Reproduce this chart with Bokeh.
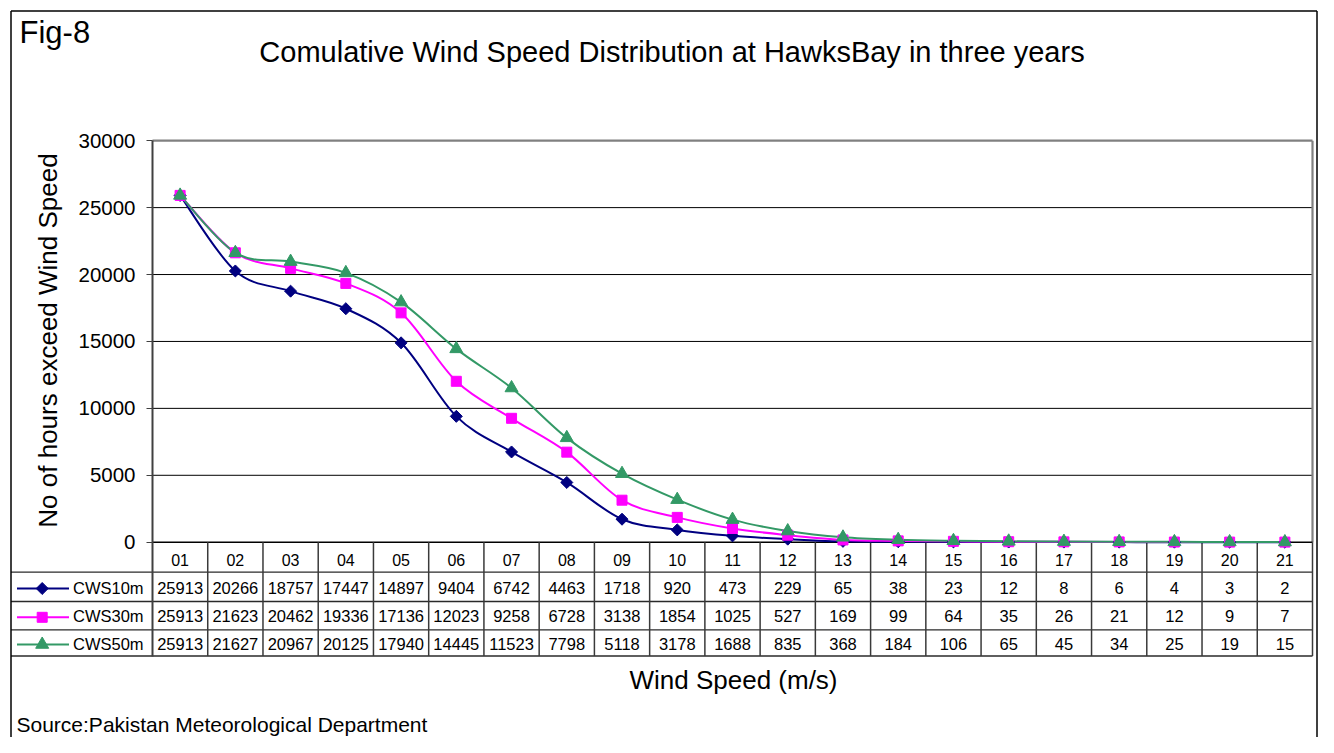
import numpy as np
from bokeh.plotting import figure
from bokeh.models import Range1d, LinearAxis, FixedTicker, Label
from bokeh.core.properties import value
from bokeh.embed import file_html
from bokeh.resources import INLINE

# ---------------- data ----------------
wind_speed_labels = ["01", "02", "03", "04", "05", "06", "07", "08", "09", "10",
                     "11", "12", "13", "14", "15", "16", "17", "18", "19", "20", "21"]
series_names = ["CWS10m", "CWS30m", "CWS50m"]
cws10m = [25913, 20266, 18757, 17447, 14897, 9404, 6742, 4463, 1718, 920,
          473, 229, 65, 38, 23, 12, 8, 6, 4, 3, 2]
cws30m = [25913, 21623, 20462, 19336, 17136, 12023, 9258, 6728, 3138, 1854,
          1025, 527, 169, 99, 64, 35, 26, 21, 12, 9, 7]
cws50m = [25913, 21627, 20967, 20125, 17940, 14445, 11523, 7798, 5118, 3178,
          1688, 835, 368, 184, 106, 65, 45, 34, 25, 19, 15]
y_ticks = [0, 5000, 10000, 15000, 20000, 25000, 30000]

title_text = "Comulative Wind Speed Distribution at HawksBay in three years"
fig_text = "Fig-8"
y_title = "No of hours exceed Wind Speed"
x_title = "Wind Speed (m/s)"
source_text = "Source:Pakistan Meteorological Department"

# ---------------- layout helpers (picture pixels -> data) ----------------
W, H = 1318, 737
ORIGIN = 0
PX_LEFT, PX_RIGHT = 152.0, 1312.0
PY_TOP, PY_ZERO = 140.2, 541.7
n = len(wind_speed_labels)
colw = (PX_RIGHT - PX_LEFT) / n
ky = y_ticks[-1] / (PY_ZERO - PY_TOP)


def xd(px):
    return 0.5 + (px - PX_LEFT) / colw


def yd(py):
    return (PY_ZERO - py) * ky


FONT = value("Liberation Sans")
FONT_NAME = "Liberation Sans"

p = figure(width=W, height=H, output_backend="svg", toolbar_location=None,
           x_range=Range1d(xd(ORIGIN), xd(ORIGIN + W)),
           y_range=Range1d(yd(ORIGIN + H), yd(ORIGIN)),
           x_axis_type=None, y_axis_type=None, min_border=0, title=None)
p.outline_line_color = None
p.background_fill_color = "white"
p.border_fill_color = "white"

x_left, x_right = 0.5, n + 0.5

# gridlines
inner = y_ticks[1:-1]
p.segment(x0=[x_left] * len(inner), y0=inner, x1=[x_right] * len(inner), y1=inner,
          line_color="black", line_width=1)
# plot-area border (top and right)
p.segment(x0=[x_left, x_right], y0=[y_ticks[-1], y_ticks[-1]],
          x1=[x_right, x_right], y1=[y_ticks[-1], 0],
          line_color="#808080", line_width=2.2)

# data table lines
row_lines = [571.7, 601.0, 629.3, 655.5]
p.segment(x0=[xd(10.5)] * len(row_lines), y0=[yd(v) for v in row_lines],
          x1=[x_right] * len(row_lines), y1=[yd(v) for v in row_lines],
          line_color="#2a2a2a", line_width=1.3)
p.segment(x0=[x_left], y0=[0], x1=[x_right], y1=[0], line_color="black", line_width=1.5)
col_x = [k + 0.5 for k in range(1, n + 1)]
p.segment(x0=col_x, y0=[yd(655.5)] * n, x1=col_x, y1=[0] * n,
          line_color="#3a3a3a", line_width=1.5)

# outer chart border (left, top, right)
p.segment(x0=[xd(10.5), xd(10.5), xd(1316.5)], y0=[yd(10.5), yd(10.5), yd(10.5)],
          x1=[xd(10.5), xd(1316.5), xd(1316.5)], y1=[yd(800), yd(10.5), yd(800)],
          line_color="black", line_width=1.5)

# ---------------- series ----------------
xs = np.arange(1, n + 1, dtype=float)
series = [cws10m, cws30m, cws50m]
colors = ["#000080", "#FF00FF", "#339966"]
markers = [("square", np.pi / 4, 8.5), ("square", 0.0, 10), ("triangle", 0.0, 13)]


def smooth(ys):
    pts = np.column_stack([xs, np.asarray(ys, dtype=float)])
    m = len(pts)
    out = {k: [] for k in ("x0", "y0", "x1", "y1", "cx0", "cy0", "cx1", "cy1")}
    for i in range(m - 1):
        pm = pts[i - 1] if i > 0 else pts[i]
        pn = pts[i + 2] if i + 2 < m else pts[i + 1]
        c0 = pts[i] + (pts[i + 1] - pm) / 6.0
        c1 = pts[i + 1] - (pn - pts[i]) / 6.0
        out["x0"].append(pts[i][0]); out["y0"].append(pts[i][1])
        out["x1"].append(pts[i + 1][0]); out["y1"].append(pts[i + 1][1])
        out["cx0"].append(c0[0]); out["cy0"].append(c0[1])
        out["cx1"].append(c1[0]); out["cy1"].append(c1[1])
    return out


for ys, col in zip(series, colors):
    p.bezier(line_color=col, line_width=2, **smooth(ys))
for ys, col, (mk, ang, sz) in zip(series, colors, markers):
    p.scatter(x=xs, y=ys, marker=mk, angle=ang, size=sz, fill_color=col, line_color=col)

# ---------------- table rows ----------------
row_centers = [587.0, 615.8, 643.0]
for ys, name, col, (mk, ang, sz), rc in zip(series, series_names, colors, markers, row_centers):
    p.text(x=xs, y=[yd(rc)] * n, text=[str(v) for v in ys], text_align="center",
           text_baseline="middle", text_font=FONT, text_font_size="16.5px", text_color="black")
    p.segment(x0=[xd(16.5)], y0=[yd(rc + 1)], x1=[xd(68.5)], y1=[yd(rc + 1)],
              line_color=col, line_width=2)
    p.scatter(x=[xd(41.7)], y=[yd(rc + 1)], marker=mk, angle=ang, size=sz,
              fill_color=col, line_color=col)
    p.text(x=[xd(72.5)], y=[yd(rc)], text=[name], text_align="left",
           text_baseline="middle", text_font=FONT, text_font_size="16.5px", text_color="black")

# ---------------- axes ----------------
yax = LinearAxis(fixed_location=0.5, ticker=FixedTicker(ticks=y_ticks),
                 bounds=(yd(655.5), y_ticks[-1]))
yax.axis_line_color = "#404040"
yax.axis_line_width = 2
yax.major_tick_out = 6
yax.major_tick_in = 0
yax.major_tick_line_color = "#404040"
yax.minor_tick_line_color = None
yax.major_label_standoff = 11
yax.major_label_text_font = FONT_NAME
yax.major_label_text_font_size = "20.5px"
yax.major_label_text_color = "black"
p.add_layout(yax, "left")

xax = LinearAxis(fixed_location=0, ticker=FixedTicker(ticks=list(range(1, n + 1))),
                 major_label_overrides={i + 1: lab for i, lab in enumerate(wind_speed_labels)})
xax.axis_line_color = None
xax.major_tick_line_color = None
xax.minor_tick_line_color = None
xax.major_label_standoff = 6
xax.major_label_text_font = FONT_NAME
xax.major_label_text_font_size = "16px"
xax.major_label_text_color = "black"
p.add_layout(xax, "below")

# ---------------- texts (positioned by their visual centre) ----------------
TXT = dict(text_font=FONT_NAME, text_color="black", text_baseline="middle")
p.add_layout(Label(x=xd(19), y=yd(32), text=fig_text, text_font_size="31px",
                   text_align="left", **TXT))
p.add_layout(Label(x=xd(671.5), y=yd(51), text=title_text, text_font_size="29px",
                   text_align="center", **TXT))
p.add_layout(Label(x=xd(47.5), y=yd(340), text=y_title, text_font_size="26px",
                   text_align="center", angle=np.pi / 2, **TXT))
p.add_layout(Label(x=xd(733), y=yd(679), text=x_title, text_font_size="26px",
                   text_align="center", **TXT))
p.add_layout(Label(x=xd(16), y=yd(723.5), text=source_text, text_font_size="21px",
                   text_align="left", **TXT))

open("out.html", "w").write(file_html(p, INLINE))
